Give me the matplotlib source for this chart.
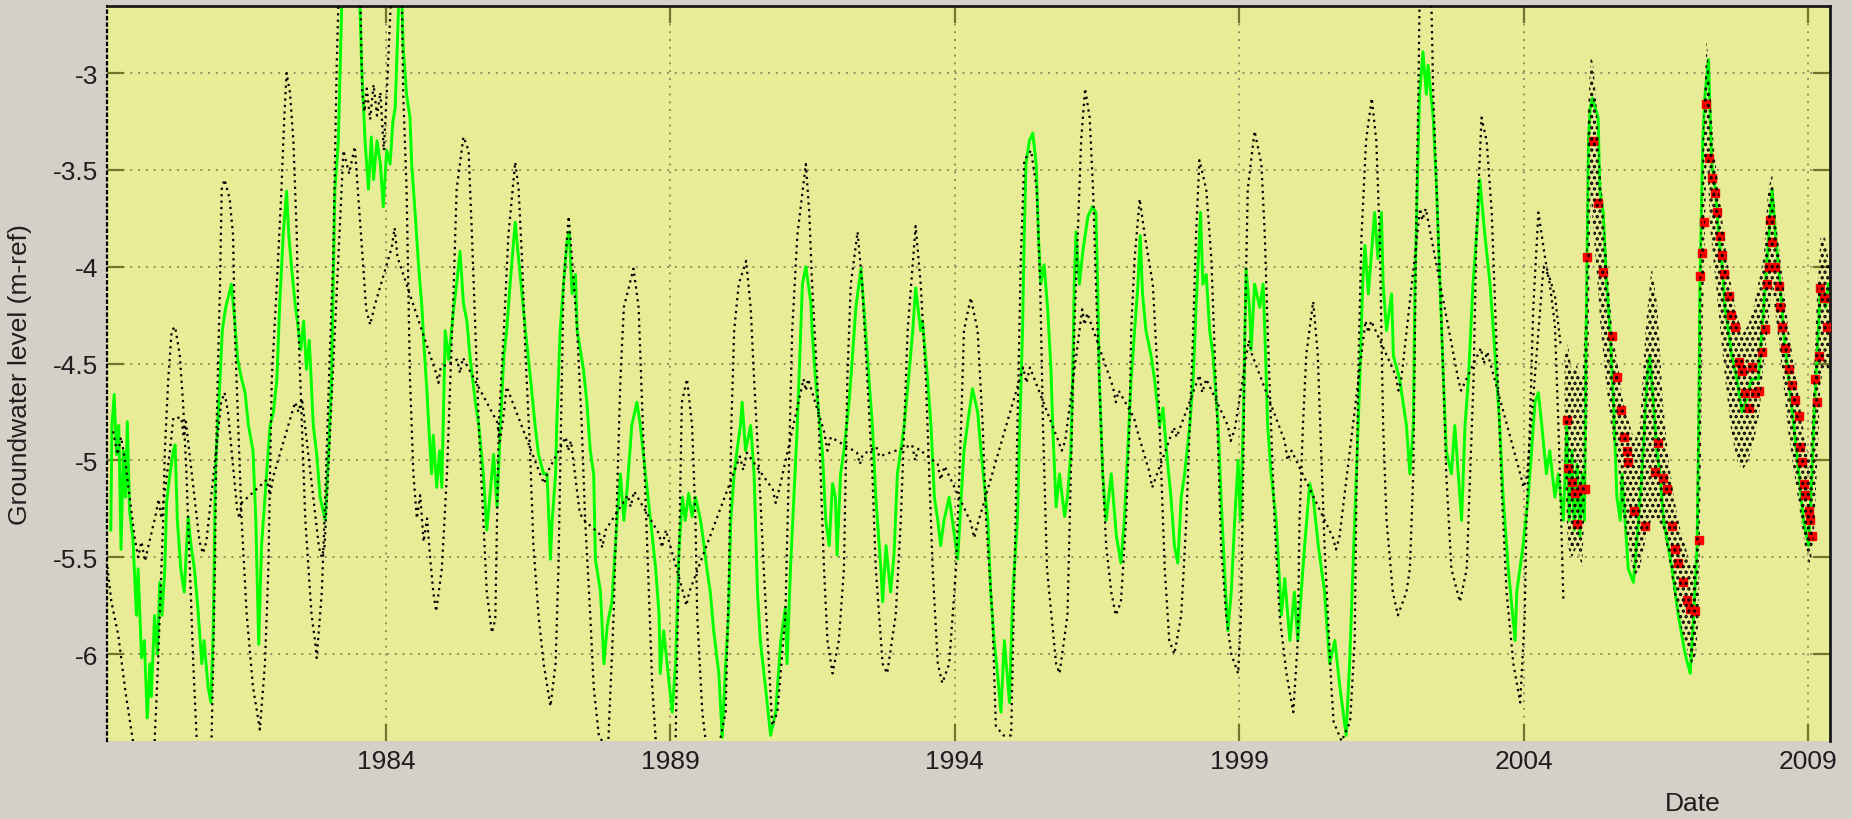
import matplotlib
matplotlib.use("Agg")
import matplotlib.pyplot as plt

plt.rcParams['font.family'] = ['Liberation Sans', 'DejaVu Sans']
plt.rcParams['axes.unicode_minus'] = False
plt.rcParams['hatch.linewidth'] = 1.6
plt.rcParams['hatch.color'] = 'black'

# ---- simulated groundwater level (green line) ----
green_year = [
    1979.16, 1979.18, 1979.22, 1979.26, 1979.30, 1979.34, 1979.38, 1979.42, 1979.45, 1979.49,
    1979.55, 1979.61, 1979.64, 1979.70, 1979.75, 1979.80, 1979.85, 1979.87, 1979.93, 1979.98,
    1980.02, 1980.06, 1980.11, 1980.14, 1980.20, 1980.26, 1980.29, 1980.33, 1980.39, 1980.45,
    1980.52, 1980.57, 1980.63, 1980.69, 1980.76, 1980.80, 1980.87, 1980.92, 1980.96, 1981.00,
    1981.08, 1981.12, 1981.18, 1981.24, 1981.28, 1981.34, 1981.39, 1981.46, 1981.52, 1981.58,
    1981.66, 1981.71, 1981.76, 1981.81, 1981.87, 1981.96, 1982.02, 1982.08, 1982.13, 1982.19,
    1982.25, 1982.29, 1982.34, 1982.40, 1982.46, 1982.50, 1982.55, 1982.60, 1982.65, 1982.72,
    1982.78, 1982.84, 1982.93, 1982.99, 1983.04, 1983.10, 1983.16, 1983.22, 1983.30, 1983.45,
    1983.54, 1983.57, 1983.63, 1983.69, 1983.74, 1983.78, 1983.84, 1983.90, 1983.95, 1984.01,
    1984.07, 1984.12, 1984.16, 1984.22, 1984.25, 1984.28, 1984.30, 1984.36, 1984.42, 1984.45,
    1984.51, 1984.57, 1984.63, 1984.66, 1984.72, 1984.75, 1984.80, 1984.83, 1984.89, 1984.94,
    1984.98, 1985.04, 1985.10, 1985.19, 1985.24, 1985.30, 1985.36, 1985.42, 1985.48, 1985.57,
    1985.63, 1985.71, 1985.77, 1985.83, 1985.89, 1985.95, 1986.01, 1986.07, 1986.12, 1986.18,
    1986.27, 1986.33, 1986.39, 1986.45, 1986.54, 1986.62, 1986.68, 1986.77, 1986.83, 1986.89,
    1986.92, 1986.98, 1987.00, 1987.06, 1987.12, 1987.18, 1987.22, 1987.27, 1987.33, 1987.36,
    1987.47, 1987.53, 1987.59, 1987.65, 1987.68, 1987.77, 1987.83, 1987.89, 1987.97, 1988.06,
    1988.12, 1988.18, 1988.24, 1988.32, 1988.41, 1988.47, 1988.56, 1988.65, 1988.74, 1988.80,
    1988.82, 1988.88, 1988.94, 1989.03, 1989.09, 1989.15, 1989.21, 1989.26, 1989.32, 1989.38,
    1989.44, 1989.53, 1989.59, 1989.64, 1989.70, 1989.76, 1989.85, 1989.91, 1989.97, 1990.02,
    1990.06, 1990.12, 1990.17, 1990.23, 1990.26, 1990.32, 1990.41, 1990.47, 1990.53, 1990.58,
    1990.67, 1990.76, 1990.85, 1990.94, 1991.02, 1991.05, 1991.11, 1991.17, 1991.23, 1991.29,
    1991.32, 1991.38, 1991.47, 1991.49, 1991.55, 1991.67, 1991.73, 1991.79, 1991.85, 1991.90,
    1991.93, 1991.99, 1992.05, 1992.14, 1992.20, 1992.26, 1992.35, 1992.43, 1992.49, 1992.55,
    1992.61, 1992.70, 1992.73, 1992.79, 1992.87, 1992.93, 1992.99, 1993.11, 1993.20, 1993.26,
    1993.31, 1993.40, 1993.43, 1993.52, 1993.58, 1993.64, 1993.70, 1993.75, 1993.81, 1993.90,
    1994.05, 1994.16, 1994.22, 1994.31, 1994.40, 1994.46, 1994.58, 1994.63, 1994.69, 1994.75,
    1994.81, 1994.87, 1994.96, 1995.02, 1995.10, 1995.13, 1995.19, 1995.22, 1995.25, 1995.31,
    1995.37, 1995.43, 1995.47, 1995.51, 1995.57, 1995.63, 1995.69, 1995.72, 1995.78, 1995.84,
    1995.93, 1995.98, 1996.04, 1996.07, 1996.10, 1996.13, 1996.19, 1996.25, 1996.34, 1996.42,
    1996.48, 1996.51, 1996.54, 1996.60, 1996.66, 1996.75, 1996.84, 1996.92, 1996.98, 1997.04,
    1997.10, 1997.16, 1997.22, 1997.26, 1997.30, 1997.36, 1997.45, 1997.51, 1997.60, 1997.66,
    1997.72, 1997.80, 1997.86, 1997.92, 1997.98, 1998.04, 1998.13, 1998.19, 1998.24, 1998.28,
    1998.32, 1998.36, 1998.42, 1998.48, 1998.54, 1998.63, 1998.68, 1998.74, 1998.80, 1998.86,
    1998.92, 1998.98, 1999.02, 1999.07, 1999.12, 1999.18, 1999.21, 1999.27, 1999.36, 1999.42,
    1999.45, 1999.50, 1999.56, 1999.65, 1999.74, 1999.80, 1999.89, 1999.97, 2000.03, 2000.09,
    2000.15, 2000.24, 2000.30, 2000.39, 2000.50, 2000.59, 2000.68, 2000.77, 2000.88, 2000.94,
    2001.00, 2001.06, 2001.12, 2001.17, 2001.21, 2001.27, 2001.38, 2001.44, 2001.50, 2001.53,
    2001.59, 2001.68, 2001.71, 2001.82, 2001.88, 2001.94, 2002.00, 2002.06, 2002.09, 2002.15,
    2002.17, 2002.23, 2002.29, 2002.32, 2002.41, 2002.47, 2002.53, 2002.59, 2002.64, 2002.73,
    2002.79, 2002.91, 2002.97, 2003.03, 2003.11, 2003.20, 2003.23, 2003.32, 2003.41, 2003.50,
    2003.58, 2003.64, 2003.73, 2003.85, 2003.88, 2003.99, 2004.08, 2004.14, 2004.20, 2004.26,
    2004.32, 2004.40, 2004.46, 2004.55, 2004.61, 2004.70, 2004.76, 2004.80, 2004.85, 2004.89,
    2004.94, 2004.99, 2005.03, 2005.07, 2005.09, 2005.11, 2005.14, 2005.17, 2005.21, 2005.26,
    2005.31, 2005.34, 2005.40, 2005.46, 2005.52, 2005.58, 2005.64, 2005.70, 2005.73, 2005.84,
    2005.93, 2006.02, 2006.08, 2006.17, 2006.22, 2006.28, 2006.34, 2006.40, 2006.46, 2006.61,
    2006.72, 2006.84, 2006.93, 2006.99, 2007.05, 2007.08, 2007.10, 2007.15, 2007.19, 2007.25,
    2007.28, 2007.31, 2007.37, 2007.43, 2007.49, 2007.54, 2007.60, 2007.66, 2007.75, 2007.84,
    2007.90, 2008.01, 2008.13, 2008.19, 2008.25, 2008.31, 2008.37, 2008.43, 2008.51, 2008.57,
    2008.66, 2008.75, 2008.84, 2008.92, 2009.01, 2009.07, 2009.10, 2009.16, 2009.22, 2009.31,
    2009.36,
]
green_level = [
    -5.36, -4.82, -4.66, -4.97, -4.82, -5.46, -4.95, -5.19, -4.80, -5.26,
    -5.41, -5.80, -5.56, -6.02, -5.93, -6.33, -6.05, -6.22, -5.80, -6.00,
    -5.63, -5.80, -5.56, -5.22, -5.07, -4.95, -4.92, -5.31, -5.56, -5.68,
    -5.29, -5.44, -5.56, -5.76, -6.05, -5.93, -6.17, -6.25, -5.88, -5.04,
    -4.58, -4.33, -4.21, -4.14, -4.09, -4.28, -4.48, -4.58, -4.65, -4.82,
    -4.95, -5.31, -5.95, -5.44, -5.19, -4.82, -4.75, -4.58, -4.19, -3.84,
    -3.61, -3.84, -4.01, -4.19, -4.33, -4.43, -4.28, -4.53, -4.38, -4.82,
    -4.97, -5.19, -5.31, -4.95, -4.58, -3.60, -3.35, -2.65, -2.45, -2.45,
    -2.65, -2.96, -3.35, -3.60, -3.33, -3.55, -3.35, -3.47, -3.69, -3.40,
    -3.47, -3.25, -3.18, -2.65, -2.55, -2.65, -2.86, -3.11, -3.23, -3.47,
    -3.72, -3.99, -4.21, -4.38, -4.65, -4.82, -5.07, -4.87, -5.14, -4.95,
    -5.14, -4.33, -4.48, -4.21, -4.09, -3.92, -4.19, -4.28, -4.48, -4.70,
    -4.82, -5.07, -5.36, -5.17, -4.97, -5.24, -4.82, -4.46, -4.33, -4.09,
    -3.77, -3.96, -4.14, -4.33, -4.58, -4.82, -4.97, -5.07, -5.07, -5.51,
    -5.31, -5.07, -4.82, -4.33, -4.09, -3.87, -3.82, -4.14, -4.04, -4.33,
    -4.53, -4.70, -4.95, -5.07, -5.51, -5.68, -6.05, -5.85, -5.73, -5.31,
    -5.07, -5.31, -5.14, -4.82, -4.70, -4.82, -5.07, -5.31, -5.56, -5.80,
    -6.10, -5.88, -6.05, -6.30, -6.05, -5.46, -5.19, -5.31, -5.17, -5.29,
    -5.19, -5.31, -5.44, -5.56, -5.68, -5.88, -6.10, -6.43, -6.05, -5.80,
    -5.31, -5.07, -4.95, -4.82, -4.70, -4.95, -4.82, -5.07, -5.68, -5.93,
    -6.17, -6.42, -6.30, -5.93, -5.76, -6.05, -5.56, -5.19, -4.82, -4.33,
    -4.09, -4.00, -4.19, -4.33, -4.58, -4.95, -5.31, -5.44, -5.12, -5.19,
    -5.49, -5.07, -4.95, -4.70, -4.46, -4.21, -4.01, -4.33, -4.58, -4.82,
    -5.19, -5.56, -5.73, -5.44, -5.68, -5.49, -5.07, -4.82, -4.53, -4.33,
    -4.11, -4.33, -4.28, -4.58, -4.82, -5.19, -5.31, -5.44, -5.31, -5.19,
    -5.51, -4.95, -4.82, -4.63, -4.75, -4.95, -5.31, -5.68, -5.93, -6.10,
    -6.30, -5.93, -6.25, -5.68, -5.31, -4.95, -4.33, -3.84, -3.47, -3.35,
    -3.31, -3.47, -3.84, -4.09, -3.99, -4.21, -4.53, -4.82, -5.24, -5.07,
    -5.29, -5.19, -4.95, -4.58, -4.09, -3.82, -4.09, -3.92, -3.74, -3.69,
    -3.72, -4.09, -4.58, -5.07, -5.31, -5.07, -5.39, -5.53, -5.31, -4.95,
    -4.58, -4.33, -4.09, -3.84, -4.14, -4.33, -4.46, -4.58, -4.82, -4.73,
    -4.95, -5.19, -5.44, -5.53, -5.19, -5.07, -4.82, -4.58, -4.21, -3.96,
    -3.72, -4.09, -4.04, -4.33, -4.46, -4.82, -5.19, -5.56, -5.88, -5.68,
    -5.31, -5.00, -5.31, -4.82, -4.01, -4.21, -4.43, -4.09, -4.21, -4.09,
    -4.33, -4.82, -5.07, -5.31, -5.80, -5.61, -5.93, -5.68, -5.93, -5.68,
    -5.44, -5.12, -5.19, -5.44, -5.68, -6.05, -5.93, -6.17, -6.42, -6.05,
    -5.56, -5.07, -4.58, -4.09, -3.89, -4.14, -3.72, -3.96, -3.72, -4.09,
    -4.33, -4.14, -4.46, -4.58, -4.70, -4.82, -5.07, -4.82, -4.09, -3.35,
    -3.11, -2.89, -3.11, -2.96, -3.23, -3.60, -4.09, -4.58, -4.95, -5.07,
    -4.82, -5.31, -4.82, -4.58, -4.09, -3.72, -3.55, -3.84, -4.09, -4.46,
    -4.82, -5.19, -5.56, -5.93, -5.68, -5.44, -5.19, -4.95, -4.70, -4.65,
    -4.82, -5.07, -4.95, -5.19, -5.07, -5.31, -4.82, -5.31, -4.95, -5.36,
    -5.02, -5.39, -5.07, -5.31, -4.58, -4.09, -3.35, -3.18, -3.13, -3.18,
    -3.23, -3.60, -3.72, -4.09, -4.33, -4.70, -5.19, -5.31, -5.07, -5.56,
    -5.63, -5.31, -5.07, -4.58, -4.46, -4.70, -4.95, -5.07, -5.31, -5.56,
    -5.80, -6.00, -6.10, -5.80, -5.44, -4.82, -4.09, -3.35, -3.11, -2.93,
    -3.23, -3.47, -3.60, -3.84, -3.99, -4.21, -4.33, -4.46, -4.58, -4.75,
    -4.70, -4.58, -4.58, -4.33, -4.09, -3.84, -3.60, -3.84, -4.09, -4.33,
    -4.58, -4.82, -5.07, -5.31, -5.44, -5.07, -4.82, -4.46, -4.09, -4.21,
    -4.09,
]

# ---- second model run (black dotted, large seasonal swing) ----
black_a_year = [
    1979.10, 1979.17, 1979.29, 1979.42, 1979.55, 1979.70, 1979.93, 1979.99, 1980.02, 1980.08,
    1980.11, 1980.17, 1980.23, 1980.29, 1980.37, 1980.43, 1980.49, 1980.55, 1980.61, 1980.67,
    1980.78, 1980.93, 1980.96, 1980.99, 1981.02, 1981.08, 1981.11, 1981.16, 1981.25, 1981.31,
    1981.34, 1981.40, 1981.46, 1981.55, 1981.66, 1981.78, 1981.87, 1981.93, 1981.96, 1981.99,
    1982.08, 1982.16, 1982.21, 1982.25, 1982.31, 1982.37, 1982.43, 1982.46, 1982.52, 1982.58,
    1982.69, 1982.75, 1982.78, 1982.87, 1982.93, 1983.01, 1983.07, 1983.10, 1983.13, 1983.16,
    1983.35, 1983.55, 1983.58, 1983.62, 1983.66, 1983.72, 1983.78, 1983.84, 1983.90, 1983.96,
    1984.02, 1984.08, 1984.20, 1984.28, 1984.30, 1984.36, 1984.39, 1984.42, 1984.48, 1984.54,
    1984.60, 1984.66, 1984.72, 1984.78, 1984.83, 1984.88, 1984.98, 1985.07, 1985.13, 1985.19,
    1985.24, 1985.36, 1985.45, 1985.51, 1985.57, 1985.63, 1985.71, 1985.77, 1985.86, 1985.92,
    1985.95, 1985.98, 1986.07, 1986.15, 1986.27, 1986.33, 1986.39, 1986.45, 1986.53, 1986.59,
    1986.68, 1986.77, 1986.89, 1986.98, 1987.03, 1987.06, 1987.09, 1987.12, 1987.21, 1987.27,
    1987.36, 1987.44, 1987.50, 1987.59, 1987.65, 1987.74, 1987.90, 1988.00, 1988.06, 1988.12,
    1988.18, 1988.35, 1988.44, 1988.50, 1988.56, 1988.62, 1988.68, 1988.74, 1988.95, 1989.09,
    1989.15, 1989.20, 1989.29, 1989.38, 1989.44, 1989.47, 1989.56, 1989.62, 1989.80, 1989.97,
    1990.03, 1990.07, 1990.12, 1990.20, 1990.33, 1990.41, 1990.47, 1990.56, 1990.64, 1990.73,
    1990.79, 1990.88, 1991.02, 1991.08, 1991.14, 1991.23, 1991.38, 1991.44, 1991.49, 1991.58,
    1991.64, 1991.70, 1991.76, 1991.85, 1991.96, 1992.05, 1992.08, 1992.11, 1992.17, 1992.29,
    1992.37, 1992.46, 1992.55, 1992.61, 1992.73, 1992.81, 1992.96, 1993.05, 1993.11, 1993.17,
    1993.31, 1993.40, 1993.49, 1993.55, 1993.61, 1993.70, 1993.78, 1993.90, 1994.02, 1994.11,
    1994.16, 1994.28, 1994.40, 1994.49, 1994.55, 1994.66, 1994.72, 1994.85, 1994.99, 1995.05,
    1995.10, 1995.16, 1995.22, 1995.34, 1995.44, 1995.50, 1995.55, 1995.62, 1995.78, 1995.84,
    1995.98, 1996.04, 1996.10, 1996.16, 1996.22, 1996.29, 1996.37, 1996.43, 1996.48, 1996.54,
    1996.60, 1996.66, 1996.75, 1996.83, 1996.92, 1997.01, 1997.07, 1997.10, 1997.16, 1997.25,
    1997.34, 1997.48, 1997.57, 1997.63, 1997.69, 1997.77, 1997.86, 1997.98, 1998.07, 1998.13,
    1998.19, 1998.24, 1998.30, 1998.42, 1998.51, 1998.57, 1998.63, 1998.68, 1998.77, 1998.86,
    1998.98, 1999.03, 1999.07, 1999.10, 1999.15, 1999.27, 1999.39, 1999.45, 1999.50, 1999.56,
    1999.62, 1999.71, 1999.83, 1999.95, 2000.03, 2000.06, 2000.12, 2000.18, 2000.30, 2000.38,
    2000.44, 2000.50, 2000.56, 2000.62, 2000.66, 2000.80, 2000.95, 2001.03, 2001.06, 2001.10,
    2001.15, 2001.23, 2001.33, 2001.41, 2001.47, 2001.50, 2001.53, 2001.59, 2001.70, 2001.79,
    2001.94, 2002.00, 2002.06, 2002.09, 2002.12, 2002.15, 2002.17, 2002.27, 2002.38, 2002.41,
    2002.47, 2002.53, 2002.59, 2002.64, 2002.73, 2002.88, 2003.00, 2003.06, 2003.12, 2003.17,
    2003.26, 2003.35, 2003.44, 2003.50, 2003.56, 2003.62, 2003.70, 2003.82, 2003.94, 2004.02,
    2004.05, 2004.11, 2004.17, 2004.26, 2004.38, 2004.46, 2004.55, 2004.61, 2004.66, 2004.70,
]
black_a_level = [
    -5.55, -5.73, -5.90, -6.20, -6.45, -6.60, -6.45, -6.05, -5.80, -5.31,
    -4.95, -4.58, -4.33, -4.31, -4.45, -4.70, -5.07, -5.56, -6.05, -6.44,
    -6.55, -6.45, -6.05, -5.56, -4.82, -4.09, -3.60, -3.55, -3.65, -3.84,
    -4.33, -4.82, -5.31, -5.80, -6.17, -6.39, -6.05, -5.56, -5.07, -4.58,
    -4.09, -3.60, -3.23, -3.00, -3.10, -3.35, -3.84, -4.33, -4.82, -5.31,
    -5.80, -5.93, -6.02, -5.68, -5.19, -4.45, -3.96, -3.47, -2.98, -2.65,
    -2.30, -2.65, -3.10, -3.20, -3.08, -3.24, -3.06, -3.22, -3.10, -3.40,
    -3.05, -2.65, -2.35, -2.65, -3.10, -3.60, -4.09, -4.58, -5.07, -5.30,
    -5.18, -5.42, -5.30, -5.52, -5.68, -5.78, -5.56, -5.07, -4.58, -4.09,
    -3.60, -3.33, -3.40, -3.84, -4.33, -4.82, -5.31, -5.68, -5.89, -5.82,
    -5.31, -4.82, -4.33, -3.84, -3.46, -3.60, -3.96, -4.45, -4.94, -5.44,
    -5.80, -6.05, -6.27, -6.05, -5.56, -5.07, -4.58, -4.09, -3.74, -3.96,
    -4.33, -4.82, -5.31, -5.80, -6.17, -6.42, -6.50, -5.80, -5.19, -4.58,
    -4.21, -4.01, -4.21, -4.70, -5.19, -5.68, -6.17, -6.44, -6.55, -6.45,
    -5.50, -4.70, -4.58, -4.82, -5.31, -5.80, -6.30, -6.45, -6.55, -6.30,
    -5.56, -4.82, -4.33, -4.09, -3.97, -4.21, -4.58, -5.07, -5.56, -6.05,
    -6.37, -6.30, -5.80, -5.07, -4.33, -3.84, -3.47, -3.72, -4.09, -4.58,
    -5.07, -5.56, -5.93, -6.10, -5.93, -5.56, -5.07, -4.58, -4.09, -3.82,
    -4.09, -4.58, -5.07, -5.56, -6.05, -6.10, -5.80, -5.31, -4.82, -4.33,
    -3.79, -4.09, -4.58, -5.07, -5.56, -6.05, -6.15, -6.05, -5.56, -4.82,
    -4.33, -4.16, -4.33, -4.82, -5.31, -5.80, -6.37, -6.42, -6.42, -5.56,
    -4.82, -3.96, -3.45, -3.40, -3.60, -4.09, -4.82, -5.56, -6.05, -6.10,
    -5.80, -5.07, -4.33, -3.84, -3.35, -3.08, -3.23, -3.60, -4.09, -4.58,
    -5.07, -5.44, -5.68, -5.80, -5.73, -5.31, -4.82, -4.33, -3.96, -3.65,
    -3.84, -4.09, -4.58, -5.07, -5.56, -5.93, -6.00, -5.80, -5.31, -4.82,
    -4.33, -3.84, -3.45, -3.60, -3.96, -4.45, -4.94, -5.44, -5.80, -6.00,
    -6.10, -5.80, -5.07, -4.33, -3.60, -3.30, -3.47, -3.84, -4.33, -4.82,
    -5.31, -5.80, -6.10, -6.30, -5.93, -5.31, -4.82, -4.45, -4.18, -4.45,
    -4.94, -5.44, -5.80, -6.17, -6.35, -6.45, -6.35, -5.93, -5.19, -4.45,
    -3.84, -3.35, -3.13, -3.35, -3.84, -4.33, -4.82, -5.31, -5.68, -5.80,
    -5.68, -5.56, -5.07, -4.33, -3.60, -3.10, -2.65, -2.50, -2.65, -3.10,
    -3.60, -4.09, -4.58, -5.07, -5.56, -5.73, -5.56, -5.07, -4.58, -3.84,
    -3.23, -3.35, -3.72, -4.21, -4.70, -5.19, -5.68, -6.05, -6.25, -5.80,
    -5.31, -4.82, -4.21, -3.72, -3.96, -4.09, -4.30, -4.80, -5.30, -5.73,
]

# ---- third model run (black dotted, damped response) ----
black_b_year = [
    1979.20, 1979.28, 1979.34, 1979.42, 1979.58, 1979.64, 1979.70, 1979.76, 1979.95, 1980.00,
    1980.05, 1980.20, 1980.26, 1980.40, 1980.44, 1980.48, 1980.72, 1980.78, 1980.84, 1981.10,
    1981.16, 1981.22, 1981.38, 1981.42, 1981.46, 1981.90, 1981.96, 1982.02, 1982.40, 1982.46,
    1982.52, 1982.82, 1982.87, 1982.92, 1983.25, 1983.35, 1983.45, 1983.65, 1983.72, 1983.80,
    1984.10, 1984.15, 1984.20, 1984.88, 1984.92, 1984.96, 1985.25, 1985.30, 1985.35, 1985.95,
    1986.00, 1986.06, 1986.12, 1986.72, 1986.78, 1986.84, 1987.16, 1987.20, 1987.25, 1987.40,
    1987.45, 1987.75, 1987.80, 1987.86, 1988.25, 1988.30, 1988.36, 1988.80, 1988.85, 1988.92,
    1989.24, 1989.28, 1989.33, 1990.22, 1990.28, 1990.34, 1990.80, 1990.85, 1990.92, 1991.34,
    1991.38, 1991.42, 1991.70, 1991.76, 1991.82, 1992.28, 1992.33, 1992.38, 1992.62, 1992.67,
    1993.25, 1993.30, 1993.36, 1993.70, 1993.75, 1993.82, 1994.28, 1994.34, 1994.40, 1995.20,
    1995.26, 1995.32, 1995.82, 1995.88, 1995.94, 1996.24, 1996.28, 1996.33, 1996.78, 1996.83,
    1996.88, 1997.15, 1997.20, 1997.42, 1997.47, 1997.85, 1997.90, 1998.30, 1998.35, 1998.42,
    1998.80, 1998.85, 1998.92, 1999.17, 1999.22, 1999.80, 1999.85, 1999.92, 2000.65, 2000.70,
    2000.76, 2001.22, 2001.27, 2001.32, 2001.75, 2001.80, 2001.85, 2002.18, 2002.22, 2002.28,
    2002.85, 2002.90, 2003.25, 2003.30, 2003.36, 2003.95, 2004.00, 2004.06, 2004.35, 2004.45,
    2004.55, 2004.65,
]
black_b_level = [
    -4.85, -4.97, -4.88, -5.02, -5.40, -5.50, -5.42, -5.52, -5.28, -5.20,
    -5.30, -4.95, -4.78, -4.78, -4.88, -4.80, -5.42, -5.48, -5.42, -4.70,
    -4.65, -4.75, -5.25, -5.30, -5.22, -5.10, -5.18, -5.08, -4.70, -4.75,
    -4.68, -5.45, -5.50, -5.44, -3.40, -3.52, -3.38, -4.22, -4.30, -4.20,
    -3.90, -3.80, -3.95, -4.55, -4.60, -4.52, -4.48, -4.55, -4.47, -4.80,
    -4.90, -4.78, -4.62, -5.08, -5.12, -5.06, -4.88, -4.95, -4.90, -5.26,
    -5.30, -5.38, -5.45, -5.36, -5.18, -5.24, -5.16, -5.38, -5.45, -5.36,
    -5.70, -5.75, -5.68, -4.98, -5.05, -4.96, -5.15, -5.22, -5.14, -4.58,
    -4.64, -4.58, -4.85, -4.95, -4.88, -4.96, -5.02, -4.97, -4.93, -4.98,
    -4.92, -5.00, -4.94, -5.02, -5.10, -5.03, -5.32, -5.40, -5.33, -4.52,
    -4.60, -4.52, -4.90, -4.95, -4.90, -4.22, -4.30, -4.24, -4.62, -4.70,
    -4.64, -4.78, -4.84, -5.06, -5.14, -4.83, -4.88, -4.56, -4.65, -4.58,
    -4.82, -4.90, -4.84, -4.38, -4.45, -4.90, -5.00, -4.95, -5.40, -5.46,
    -5.40, -4.28, -4.34, -4.28, -4.56, -4.64, -4.58, -3.70, -3.76, -3.70,
    -4.58, -4.64, -4.42, -4.50, -4.44, -5.08, -5.14, -5.08, -4.00, -4.05,
    -4.15, -4.40,
]

# ---- spread of the daily model output during the monitoring period ----
band_year = [
    2004.72, 2004.78, 2004.85, 2004.93, 2005.03, 2005.09, 2005.13, 2005.18, 2005.22, 2005.28,
    2005.35, 2005.45, 2005.55, 2005.65, 2005.75, 2005.85, 2005.95, 2006.05, 2006.15, 2006.25,
    2006.35, 2006.45, 2006.55, 2006.65, 2006.75, 2006.85, 2006.95, 2007.03, 2007.08, 2007.15,
    2007.22, 2007.28, 2007.35, 2007.45, 2007.55, 2007.65, 2007.75, 2007.85, 2007.95, 2008.05,
    2008.15, 2008.22, 2008.30, 2008.37, 2008.45, 2008.55, 2008.65, 2008.75, 2008.85, 2008.95,
    2009.03, 2009.10, 2009.15, 2009.22, 2009.30, 2009.38,
]
band_upper = [
    -4.45, -4.40, -4.55, -4.50, -4.60, -4.20, -3.20, -2.91, -2.95, -3.15,
    -3.50, -3.90, -4.30, -4.50, -4.70, -4.80, -4.90, -4.80, -4.30, -4.00,
    -4.20, -4.70, -5.00, -5.20, -5.35, -5.45, -5.55, -5.50, -4.20, -3.30,
    -2.82, -3.10, -3.40, -3.65, -3.90, -4.10, -4.25, -4.35, -4.30, -4.20,
    -4.05, -3.95, -3.60, -3.52, -3.80, -4.05, -4.30, -4.50, -4.70, -4.90,
    -5.00, -4.60, -4.20, -3.85, -3.85, -4.00,
]
band_lower = [
    -5.00, -5.45, -5.50, -5.45, -5.55, -5.10, -4.70, -3.60, -3.80, -4.00,
    -4.30, -4.60, -4.85, -5.00, -5.30, -5.45, -5.60, -5.55, -5.40, -5.30,
    -5.30, -5.35, -5.50, -5.70, -5.85, -5.95, -6.05, -6.00, -5.80, -4.30,
    -3.40, -3.80, -4.00, -4.30, -4.60, -4.85, -5.00, -5.05, -5.00, -4.90,
    -4.75, -4.50, -4.30, -4.10, -4.30, -4.55, -4.85, -5.05, -5.25, -5.45,
    -5.55, -5.40, -5.10, -4.60, -4.50, -4.55,
]

# ---- observed levels (red squares) ----
obs_year = [
    2004.757, 2004.787, 2004.845, 2004.904, 2004.933, 2005.021, 2005.080, 2005.121, 2005.215, 2005.315,
    2005.403, 2005.549, 2005.638, 2005.714, 2005.773, 2005.814, 2005.843, 2005.949, 2006.136, 2006.312,
    2006.371, 2006.459, 2006.518, 2006.606, 2006.664, 2006.723, 2006.811, 2006.870, 2006.929, 2007.017,
    2007.075, 2007.105, 2007.134, 2007.175, 2007.204, 2007.251, 2007.310, 2007.357, 2007.398, 2007.457,
    2007.486, 2007.515, 2007.604, 2007.650, 2007.721, 2007.779, 2007.838, 2007.897, 2007.956, 2008.014,
    2008.073, 2008.132, 2008.190, 2008.249, 2008.278, 2008.319, 2008.337, 2008.366, 2008.425, 2008.484,
    2008.513, 2008.542, 2008.601, 2008.660, 2008.719, 2008.777, 2008.836, 2008.865, 2008.894, 2008.924,
    2008.953, 2009.012, 2009.041, 2009.071, 2009.129, 2009.159, 2009.188, 2009.217, 2009.276, 2009.335,
]
obs_level = [
    -4.79, -5.04, -5.11, -5.17, -5.33, -5.15, -5.15, -3.95, -3.35, -3.67,
    -4.03, -4.36, -4.57, -4.74, -4.88, -4.95, -5.01, -5.26, -5.34, -5.06,
    -4.91, -5.09, -5.15, -5.34, -5.46, -5.53, -5.63, -5.72, -5.77, -5.78,
    -5.41, -4.05, -3.93, -3.77, -3.16, -3.44, -3.54, -3.62, -3.72, -3.84,
    -3.94, -4.04, -4.15, -4.25, -4.31, -4.49, -4.54, -4.65, -4.73, -4.52,
    -4.65, -4.64, -4.44, -4.32, -4.09, -4.00, -3.76, -3.87, -4.00, -4.10,
    -4.21, -4.31, -4.42, -4.53, -4.61, -4.69, -4.77, -4.93, -5.01, -5.12,
    -5.18, -5.26, -5.31, -5.39, -4.58, -4.70, -4.46, -4.11, -4.16, -4.31,
]

x_ticks = [1984, 1989, 1994, 1999, 2004, 2009]
y_ticks = [-6, -5.5, -5, -4.5, -4, -3.5, -3]
y_tick_labels = ['-6', '-5.5', '-5', '-4.5', '-4', '-3.5', '-3']

W, H = 1852, 820
fig = plt.figure(figsize=(W / 100, H / 100), dpi=100, facecolor='#d4d0c8')
ax = fig.add_axes([107 / W, 78 / H, 1723 / W, 735 / H])
ax.set_facecolor('#e8ec96')

ax.plot(green_year, green_level, color='#00ff00', lw=2.1, zorder=2)
ax.plot(obs_year, obs_level, linestyle='none', marker='s', ms=5.2,
        mfc='#ff0000', mec='#ff0000', zorder=3)
dot = (0, (1, 1.9))
ax.plot(black_a_year, black_a_level, color='black', lw=1.6, linestyle=dot, zorder=4)
ax.plot(black_b_year, black_b_level, color='black', lw=1.6, linestyle=dot, zorder=4)
ax.fill_between(band_year, band_lower, band_upper, facecolor='none',
                edgecolor='black', hatch='...', linewidth=0, zorder=4)

ax.set_xlim(1979.093, 2009.387)
ax.set_ylim(-6.449, -2.654)

ax.set_xticks(x_ticks)
ax.set_xticklabels([str(v) for v in x_ticks])
ax.set_yticks(y_ticks)
ax.set_yticklabels(y_tick_labels)

ax.set_axisbelow(True)
ax.grid(True, color='#8f8f62', linestyle=(0, (1, 3)), linewidth=1.4)

ax.tick_params(axis='both', direction='in', length=12.5, width=1.6,
               color='#74742c', labelcolor='#1e1e1e', labelsize=19,
               top=True, right=True)
ax.tick_params(axis='y', pad=6.5)
ax.tick_params(axis='x', pad=6)

for side in ('top', 'right'):
    ax.spines[side].set_color('#1a1a1a')
    ax.spines[side].set_linewidth(2.0)
ax.spines['left'].set_color('black')
ax.spines['left'].set_linewidth(1.6)
ax.spines['left'].set_linestyle(dot)
ax.spines['bottom'].set_visible(False)

ax.set_ylabel('Groundwater level (m-ref)', fontsize=19, color='#1e1e1e')
ax.yaxis.set_label_coords(-0.0505, 0.5)
ax.yaxis.label.set_va('center')
ax.set_xlabel('Date', fontsize=19, color='#1e1e1e')
ax.xaxis.set_label_coords(0.9205, -0.085)
ax.xaxis.label.set_va('center')

fig.savefig('out.png', dpi=100, facecolor=fig.get_facecolor())
